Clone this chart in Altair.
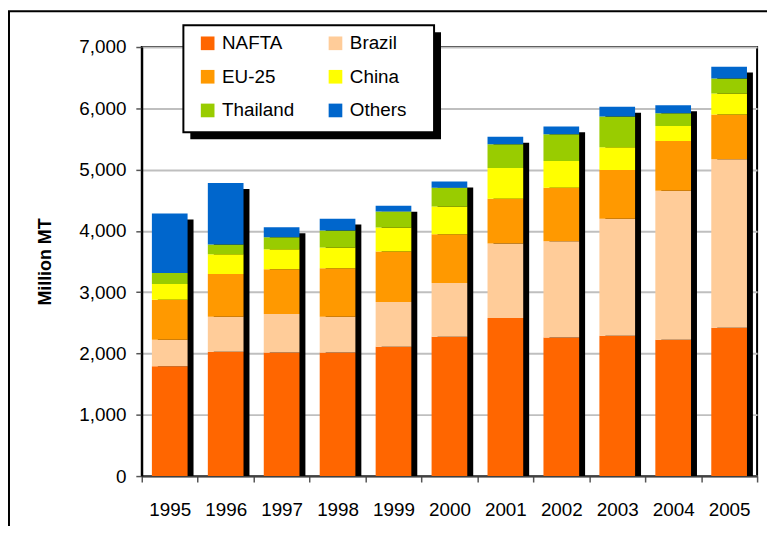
import altair as alt
import pandas as pd

years = ["1995", "1996", "1997", "1998", "1999", "2000", "2001", "2002", "2003", "2004", "2005"]
regions = ["NAFTA", "Brazil", "EU-25", "China", "Thailand", "Others"]
colors = ["#FF6600", "#FFCC99", "#FF9900", "#FFFF00", "#99CC00", "#0066CC"]

nafta = [1790, 2030, 2015, 2015, 2110, 2275, 2580, 2260, 2290, 2225, 2420]
brazil = [435, 570, 630, 585, 730, 875, 1215, 1570, 1910, 2430, 2750]
eu25 = [650, 695, 730, 790, 825, 795, 730, 875, 795, 810, 730]
china = [260, 325, 325, 340, 390, 455, 500, 435, 370, 245, 340]
thailand = [180, 160, 195, 275, 260, 305, 390, 435, 500, 210, 245]
others = [970, 1000, 165, 195, 95, 100, 120, 130, 160, 130, 195]

y_ticks = [0, 1000, 2000, 3000, 4000, 5000, 6000, 7000]

series = [nafta, brazil, eu25, china, thailand, others]
rows = []
for ri, (name, vals) in enumerate(zip(regions, series)):
    for yr, v in zip(years, vals):
        rows.append({"year": yr, "region": name, "value": v, "idx": ri})
df = pd.DataFrame(rows)

FONT = "Liberation Sans"
BAND = 0.638

x_enc = alt.X(
    "year:N",
    sort=years,
    scale=alt.Scale(paddingInner=0, paddingOuter=0),
    axis=alt.Axis(
        title=None, labelAngle=0, labelFontSize=19, labelPadding=19,
        labelColor="black", labelFont=FONT, tickSize=6, tickColor="#555555",
        tickWidth=1.5, tickBand="extent", domainColor="#404040", domainWidth=2,
        grid=False,
    ),
)
y_scale = alt.Scale(domain=[0, 7000], nice=False)
y_axis = alt.Axis(
    values=y_ticks, format=",d", title="Million MT", titleFontSize=18,
    titleFontWeight="bold", titleColor="black", titleFont=FONT,
    titlePadding=25, labelFontSize=19, labelPadding=10, labelColor="black",
    labelFont=FONT, tickSize=6, tickColor="#555555", tickWidth=1.5,
    domainColor="black", domainWidth=2, gridColor="#BFBFBF", gridWidth=2,
)

shadow = alt.Chart(df).mark_bar(
    color="black", xOffset=6, yOffset=6, clip=True, width=alt.RelativeBandSize(BAND)
).encode(
    x=x_enc,
    y=alt.Y("sum(value):Q", scale=y_scale, axis=y_axis),
)

bars = alt.Chart(df).mark_bar(width=alt.RelativeBandSize(BAND)).encode(
    x=x_enc,
    y=alt.Y("value:Q", stack="zero", scale=y_scale, axis=y_axis),
    color=alt.Color(
        "region:N",
        scale=alt.Scale(domain=regions, range=colors),
        legend=alt.Legend(
            title=None, orient="none", legendX=57, legendY=-13.5, columns=2,
            direction="horizontal",
            symbolType="square", symbolSize=190, symbolStrokeWidth=0,
            labelFontSize=19, labelFont=FONT, labelColor="black", labelOffset=5,
            columnPadding=32, rowPadding=14, padding=0, gridAlign="each",
        ),
    ),
    order=alt.Order("idx:Q", sort="ascending"),
)

# decorative legend frame and its drop shadow (pixel placement, not data)
deco = alt.Data(values=[{"k": 1}])
legend_shadow = alt.Chart(deco).mark_rect(color="black").encode(
    x=alt.value(49), x2=alt.value(302), y=alt.value(-15), y2=alt.value(93)
)
legend_box = alt.Chart(deco).mark_rect(fill="white", stroke="black", strokeWidth=2).encode(
    x=alt.value(42), x2=alt.value(295), y=alt.value(-22), y2=alt.value(86)
)
frame = alt.Chart(deco).mark_rect(fillOpacity=0, stroke="black", strokeWidth=2).encode(
    x=alt.value(-134), x2=alt.value(700), y=alt.value(-36), y2=alt.value(600)
)

chart = alt.layer(frame, shadow, bars, legend_shadow, legend_box).properties(
    width=621,
    height=433,
    padding={"left": 135, "top": 37, "right": 10, "bottom": 48},
    autosize=alt.AutoSizeParams(type="none"),
    background="white",
).configure_view(
    stroke="black", strokeWidth=2
)

chart.save("out.html", embed_options={"renderer": "svg", "actions": False})
